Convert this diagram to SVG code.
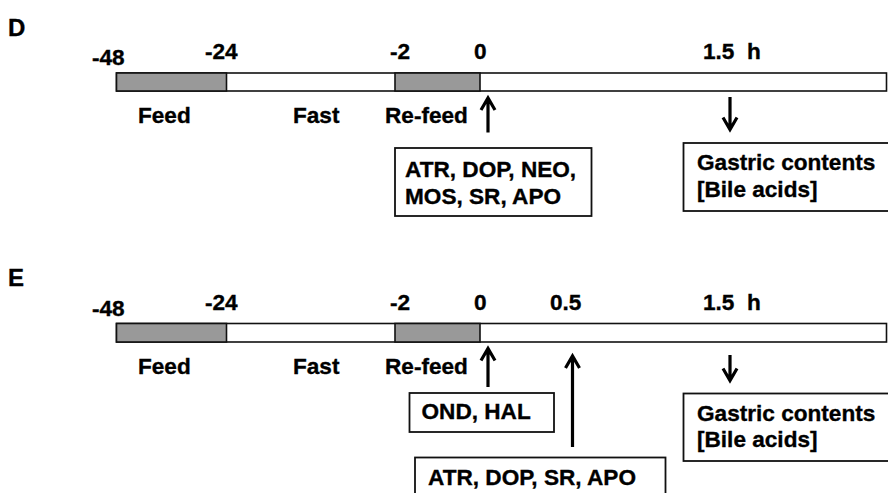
<svg xmlns="http://www.w3.org/2000/svg" width="888" height="493" viewBox="0 0 888 493">
<style>
text{font-family:"Liberation Sans",Arial,sans-serif;font-weight:bold;font-size:22.6px;fill:#000;stroke:#000;stroke-width:0.35px}
.panel{font-size:24px}
.bar{stroke:#111;stroke-width:1.6}
.g{fill:#999}
.w{fill:#fff}
.box{fill:#fff;stroke:#111;stroke-width:1.8}
.arr{stroke:#000;stroke-width:3.2;fill:none;stroke-linecap:butt;stroke-linejoin:miter}
</style>
<rect width="888" height="493" fill="#fff"/>
<g id="panelD">
<text class="panel" x="8" y="35.5">D</text>
<g id="D-timeline">
<rect class="bar w" x="116.5" y="73" width="770" height="18"/>
<rect class="bar g" x="116.5" y="73" width="110" height="18"/>
<rect class="bar g" x="395" y="73" width="85" height="18"/>
</g>
<g id="D-ticks">
<text x="92" y="65">-48</text>
<text x="205" y="59">-24</text>
<text x="390" y="59">-2</text>
<text x="474" y="59">0</text>
<text x="703" y="59" xml:space="preserve">1.5  h</text>
</g>
<g id="D-phases">
<text x="138" y="122.5">Feed</text>
<text x="293" y="122.5">Fast</text>
<text x="385" y="122.5">Re-feed</text>
</g>
<g id="D-drugs">
<rect class="box" x="395" y="148" width="196.5" height="68"/>
<text x="405" y="177">ATR, DOP, NEO,</text>
<text x="405" y="203.5">MOS, SR, APO</text>
</g>
<g id="D-gastric">
<rect class="box" x="683.5" y="143" width="220" height="68"/>
<text x="697" y="170">Gastric contents</text>
<text x="697" y="197">[Bile acids]</text>
</g>
<g id="D-connectors">
<path class="arr" d="M488 132.5V98M481 110L488 98L495 110"/>
<path class="arr" d="M730 97V129.5M723 117.5L730 129.5L737 117.5"/>
</g>
</g>
<g id="panelE">
<text class="panel" x="8" y="285.5">E</text>
<g id="E-timeline">
<rect class="bar w" x="116.5" y="323.5" width="770" height="18.5"/>
<rect class="bar g" x="116.5" y="323.5" width="110" height="18.5"/>
<rect class="bar g" x="395" y="323.5" width="85" height="18.5"/>
</g>
<g id="E-ticks">
<text x="92" y="315.5">-48</text>
<text x="205" y="309.5">-24</text>
<text x="390" y="309.5">-2</text>
<text x="474" y="309.5">0</text>
<text x="550" y="309.5">0.5</text>
<text x="703" y="309.5" xml:space="preserve">1.5  h</text>
</g>
<g id="E-phases">
<text x="138" y="373.5">Feed</text>
<text x="293" y="373.5">Fast</text>
<text x="385" y="373.5">Re-feed</text>
</g>
<g id="E-ondhal">
<rect class="box" x="409.5" y="393" width="144.5" height="39"/>
<text x="421.5" y="418.5">OND, HAL</text>
</g>
<g id="E-drugs">
<rect class="box" x="415" y="457.5" width="250.5" height="50"/>
<text x="428" y="485">ATR, DOP, SR, APO</text>
</g>
<g id="E-gastric">
<rect class="box" x="683.5" y="393.5" width="220" height="67.5"/>
<text x="697" y="421">Gastric contents</text>
<text x="697" y="447">[Bile acids]</text>
</g>
<g id="E-connectors">
<path class="arr" d="M488 387V348.5M481 360.5L488 348.5L495 360.5"/>
<path class="arr" d="M572.5 447V356M565.5 368L572.5 356L579.5 368"/>
<path class="arr" d="M730 355V380.5M723 368.5L730 380.5L737 368.5"/>
</g>
</g>
</svg>
